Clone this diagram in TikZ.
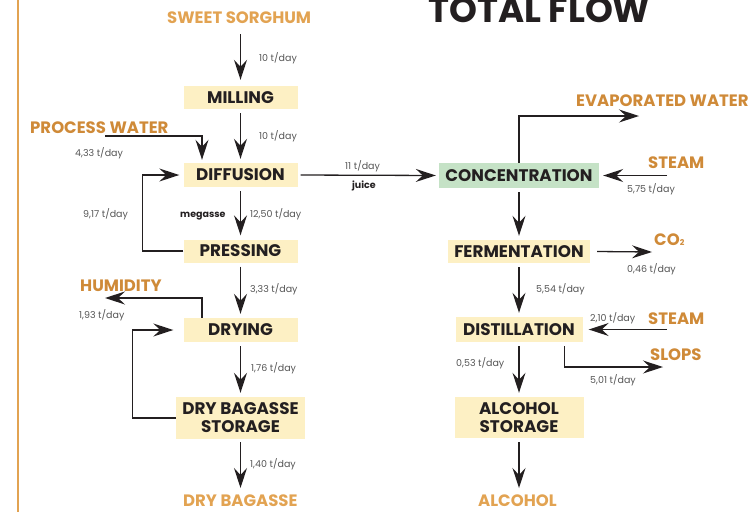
\documentclass[tikz,border=0pt]{standalone}
\usepackage{fontspec}
\setmainfont{Poppins}
\usetikzlibrary{arrows.meta}
\definecolor{boxfill}{HTML}{FDF0C4}
\definecolor{greenfill}{HTML}{C5E2C6}
\definecolor{ink}{HTML}{231F20}
\definecolor{qtygray}{HTML}{555555}
\definecolor{orangeA}{HTML}{CF8A38}
\definecolor{orangeB}{HTML}{E2A352}
\begin{document}
\begin{tikzpicture}[x=1pt,y=-1pt,
  proc/.style={fill=boxfill, inner sep=0pt, text=ink, align=center,
    font=\bfseries\fontsize{16.8}{18}\selectfont},
  ext/.style={inner sep=0pt, anchor=base west, text=orangeA,
    font=\bfseries\fontsize{16.5}{17}\selectfont},
  extlight/.style={ext, text=orangeB},
  qty/.style={inner sep=0pt, anchor=base west, text=qtygray,
    font=\fontsize{9.5}{10}\selectfont},
  qtyb/.style={qty, text=ink, font=\bfseries\fontsize{9.5}{10}\selectfont},
  flow/.style={draw=ink, line width=1.3pt, line join=miter,
    -{Stealth[length=20pt,width=13pt,inset=7pt]}},
  vgap/.style={shorten <=4pt, shorten >=4pt}]
\useasboundingbox (0,0) rectangle (749,512);
% left orange rule
\draw[orangeB, line width=2.5pt] (18,0) -- (18,512);
% title
\node[inner sep=0pt, anchor=base west, text=ink,
  font=\bfseries\fontsize{35.5}{36}\selectfont] (title) at (428,22) {TOTAL FLOW};

% process boxes
\node[proc, minimum width=114pt, minimum height=23pt] (mill) at (240.5,97.5) {MILLING};
\node[proc, minimum width=114pt, minimum height=24pt] (diff) at (240.5,175) {DIFFUSION};
\node[proc, minimum width=114pt, minimum height=23pt] (press) at (240.5,251) {PRESSING};
\node[proc, minimum width=114pt, minimum height=24pt] (dry) at (240.5,330) {DRYING};
\node[proc, minimum width=129pt, minimum height=42pt] (dbs) at (240.5,418) {DRY BAGASSE\\STORAGE};
\node[proc, fill=greenfill, minimum width=160pt, minimum height=25pt] (conc) at (519,175.5) {CONCENTRATION};
\node[proc, minimum width=142pt, minimum height=23pt] (ferm) at (519,251.5) {FERMENTATION};
\node[proc, minimum width=127pt, minimum height=25pt] (dist) at (519,329.5) {DISTILLATION};
\node[proc, minimum width=129pt, minimum height=41pt] (alst) at (519,417.5) {ALCOHOL\\STORAGE};

% external streams
\node[extlight] (sorg) at (167,23) {SWEET SORGHUM};
\node[ext] (pw) at (30,133) {PROCESS WATER};
\node[ext] (hum) at (80,291) {HUMIDITY};
\node[extlight] (drybag) at (183,506.5) {DRY BAGASSE};
\node[ext] (evap) at (576,106) {EVAPORATED WATER};
\node[ext] (steamA) at (648,168) {STEAM};
\node[ext] (co2) at (654,245) {CO\raisebox{0pt}{\fontsize{8}{8}\selectfont 2}};
\node[ext] (steamB) at (648,324) {STEAM};
\node[ext] (slops) at (650,360) {SLOPS};
\node[extlight] (alc) at (478,506.5) {ALCOHOL};

% free ends
\coordinate (pwstart) at (105,136);
\coordinate (humend) at (105,298);
\coordinate (evapend) at (639,116);
\coordinate (steamAstart) at (667,175.5);
\coordinate (co2end) at (652,252);
\coordinate (steamBstart) at (667,329.5);
\coordinate (slopsend) at (663,367);

% left column flows
\draw[flow] ([yshift=-11pt]sorg.south -| mill.north) -- ([yshift=6pt]mill.north);
\draw[flow, vgap] (mill.south) -- (diff.north);
\draw[flow] (pwstart) -| ([xshift=-38.5pt,yshift=3pt]diff.north);
\draw[flow, vgap] (diff.south) -- (press.north);
\draw[flow] (press.west) -- ++(-41,0) |- ([xshift=-4pt]diff.west);
\draw[flow, vgap] (press.south) -- (dry.north);
\draw[flow] ([xshift=-38.5pt]dry.north) |- (humend);
\draw[flow, vgap] (dry.south) -- (dbs.north);
\draw[flow] (dbs.west) -- ++(-43,0) |- ([xshift=-10pt]dry.west);
\draw[flow] ([yshift=-3pt]dbs.south) -- (dbs.south |- 0,488);

% juice
\draw[flow, shorten <=3pt, shorten >=3pt] (diff.east) -- (conc.west);

% right column flows
\draw[flow] (conc.north) |- (evapend);
\draw[flow] (steamAstart) -- ([xshift=4pt]conc.east);
\draw[flow, vgap] (conc.south) -- (ferm.north);
\draw[flow] ([xshift=7pt]ferm.east) -- (co2end);
\draw[flow, vgap] (ferm.south) -- (dist.north);
\draw[flow] (steamBstart) -- ([xshift=6pt]dist.east);
\draw[flow] ([xshift=-18pt,yshift=-4pt]dist.south east) |- (slopsend);
\draw[flow, vgap] (dist.south) -- (alst.north);
\draw[flow] ([yshift=-4pt]alst.south) -- (alst.south |- 0,488);

% quantities
\node[qty] (q1) at (259,61) {10 t/day};
\node[qty] (q2) at (259,139) {10 t/day};
\node[qty] (q3) at (75,156) {4,33 t/day};
\node[qty] (q4) at (345,169) {11 t/day};
\node[qtyb] (q5) at (352,188) {juice};
\node[qtyb] (q6) at (180,217) {megasse};
\node[qty] (q7) at (250,217) {12,50 t/day};
\node[qty] (q8) at (83,217) {9,17 t/day};
\node[qty] (q9) at (250,292) {3,33 t/day};
\node[qty] (q10) at (79,318) {1,93 t/day};
\node[qty] (q11) at (251,371) {1,76 t/day};
\node[qty] (q12) at (250,467) {1,40 t/day};
\node[qty] (q13) at (627,192) {5,75 t/day};
\node[qty] (q14) at (627,272) {0,46 t/day};
\node[qty] (q15) at (536,292) {5,54 t/day};
\node[qty] (q16) at (590,321) {2,10 t/day};
\node[qty] (q17) at (456,366) {0,53 t/day};
\node[qty] (q18) at (590,383) {5,01 t/day};
\end{tikzpicture}
\end{document}
